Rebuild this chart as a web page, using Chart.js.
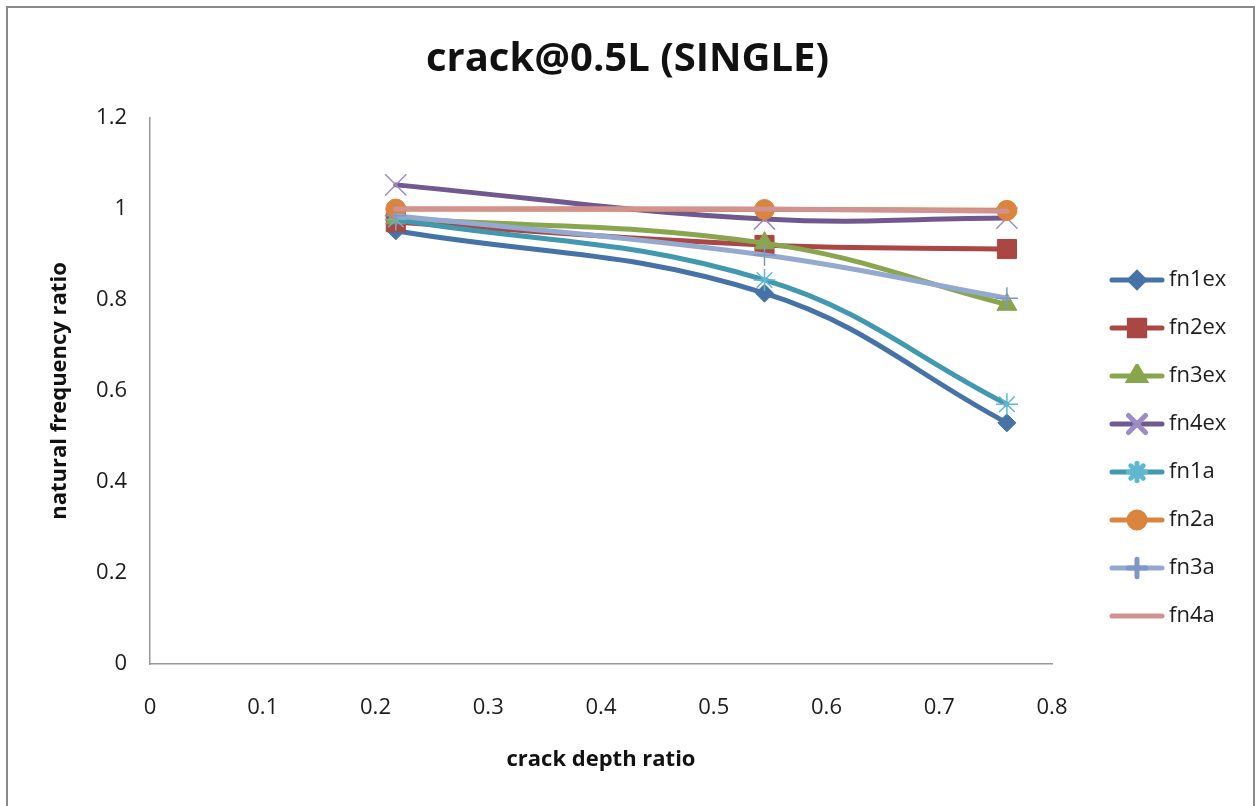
<!DOCTYPE html>
<html>
<head>
<meta charset="utf-8">
<title>crack@0.5L (SINGLE)</title>
<script src="https://cdn.jsdelivr.net/npm/chart.js@4.4.1/dist/chart.umd.min.js"></script>
<style>
  html, body { margin: 0; padding: 0; background: #fff; }
  #wrap { position: relative; width: 1255px; height: 806px; overflow: hidden; }
  #frame { position: absolute; left: 6px; top: 6px; width: 1245px; height: 900px; border: 2px solid #8a8a8a; }
  canvas { position: absolute; left: 0; top: 0; }
</style>
</head>
<body>
<div id="wrap">
  <div id="frame"></div>
  <canvas id="myChart" width="1255" height="806"></canvas>
</div>
<script>
// crack depth ratios (x) and natural frequency ratios per mode
const depthRatio = [0.218, 0.545, 0.76];
const fn1ex = [0.952, 0.815, 0.53];
const fn2ex = [0.971, 0.921, 0.912];
const fn3ex = [0.98, 0.925, 0.79];
const fn4ex = [1.053, 0.978, 0.98];
const fn1a = [0.977, 0.844, 0.571];
const fn2a = [1.0, 0.999, 0.997];
const fn3a = [0.985, 0.899, 0.804];
const fn4a = [1.0, 1.0, 0.995];

const seriesNames = ['fn1ex', 'fn2ex', 'fn3ex', 'fn4ex', 'fn1a', 'fn2a', 'fn3a', 'fn4a'];
const seriesValues = [fn1ex, fn2ex, fn3ex, fn4ex, fn1a, fn2a, fn3a, fn4a];

const xTicks = [0, 0.1, 0.2, 0.3, 0.4, 0.5, 0.6, 0.7, 0.8];
const yTicks = [0, 0.2, 0.4, 0.6, 0.8, 1, 1.2];

// excel 2007 palette
const lineColors = ['#4572A7', '#AA4643', '#89A54E', '#71588F', '#4198AF', '#DB843D', '#93A9CF', '#D19392'];
const markerColors = ['#4572A7', '#AA4643', '#89A54E', '#9d8cc4', '#5fb8d0', '#DB843D', '#7f97c6', '#D19392'];
const markerStyles = ['rectRot', 'rect', 'triangle', 'crossRot', 'star', 'circle', 'cross', 'circle'];
const markerSizes = [9, 13.5, 11.5, 15, 11, 10, 11, 0];
const markerBorders = [1, 1, 1, 1.5, 1.5, 1, 1.5, 0];

// little line+marker image for each legend entry
function legendSwatch(i) {
  const c = document.createElement('canvas');
  c.width = 56; c.height = 24;
  const g = c.getContext('2d');
  g.strokeStyle = lineColors[i];
  g.lineWidth = 5;
  g.lineCap = 'round';
  g.beginPath(); g.moveTo(3, 12); g.lineTo(53, 12); g.stroke();
  if (markerSizes[i] > 0) {
    g.fillStyle = markerColors[i];
    g.strokeStyle = markerColors[i];
    Chart.helpers.drawPoint(g, {
      pointStyle: markerStyles[i],
      radius: markerSizes[i] * 0.8,
      rotation: 0,
      borderWidth: markerBorders[i]
    }, 28, 12);
  }
  return c;
}

// legend keeps a fixed strip on the right and sits a bit lower than centre
const legendPlacement = {
  id: 'legendPlacement',
  beforeLayout(chart, args, opts) {
    const lg = chart.legend;
    if (lg && !lg._fixedFit) {
      const fit = lg.fit;
      lg.fit = function () { fit.call(this); this.width = opts.width; };
      lg._fixedFit = true;
    }
  },
  afterLayout(chart, args, opts) {
    const lg = chart.legend;
    const dx = opts.left - lg.left, dy = opts.top - lg.top;
    lg.left += dx; lg.right += dx;
    lg.top += dy; lg.bottom += dy;
  }
};

const datasets = seriesNames.map((name, i) => ({
  label: name,
  data: depthRatio.map((x, j) => ({ x: x, y: seriesValues[i][j] })),
  showLine: true,
  borderColor: lineColors[i],
  backgroundColor: markerColors[i],
  borderWidth: 5,
  borderCapStyle: 'round',
  tension: 0.4,
  pointStyle: markerStyles[i],
  pointRadius: markerSizes[i],
  pointHoverRadius: markerSizes[i],
  pointBorderColor: markerColors[i],
  pointBackgroundColor: markerColors[i],
  pointBorderWidth: markerBorders[i],
  order: seriesNames.length - i,
  clip: false
}));

Chart.defaults.font.family = "'Open Sans', 'DejaVu Sans', sans-serif";
Chart.defaults.color = '#1c1c1c';

const ctx = document.getElementById('myChart').getContext('2d');
const myChart = new Chart(ctx, {
  type: 'scatter',
  data: { datasets: datasets },
  plugins: [legendPlacement],
  options: {
    responsive: false,
    devicePixelRatio: 1,
    animation: false,
    layout: { padding: 0 },
    plugins: {
      title: {
        display: true,
        text: 'crack@0.5L (SINGLE)',
        color: '#111',
        font: { size: 40, weight: 'bold' },
        padding: { top: 36, bottom: 34 }
      },
      legend: {
        position: 'right',
        align: 'start',
        labels: {
          usePointStyle: true,
          pointStyleWidth: 42,
          padding: 26,
          color: '#1c1c1c',
          font: { size: 22 },
          sort: (a, b) => a.datasetIndex - b.datasetIndex,
          generateLabels(chart) {
            return Chart.defaults.plugins.legend.labels.generateLabels(chart).map(item => {
              item.pointStyle = legendSwatch(item.datasetIndex);
              return item;
            });
          }
        }
      },
      legendPlacement: { width: 203, left: 1090, top: 243 },
      tooltip: { enabled: false }
    },
    scales: {
      x: {
        type: 'linear',
        min: 0,
        max: 0.8,
        afterFit(scale) { scale.height = 142; },
        afterBuildTicks(scale) { scale.ticks = xTicks.map(v => ({ value: v })); },
        grid: { display: false, drawTicks: false },
        border: { display: true, color: '#999', width: 1.5 },
        ticks: {
          font: { size: 22 },
          padding: 31,
          color: '#1c1c1c',
          callback: v => String(Math.round(v * 10) / 10)
        },
        title: {
          display: true,
          text: 'crack depth ratio',
          font: { size: 22, weight: 'bold' },
          color: '#111',
          padding: { bottom: 33 }
        }
      },
      y: {
        min: 0,
        max: 1.2,
        afterFit(scale) { scale.width = 150; },
        afterBuildTicks(scale) { scale.ticks = yTicks.map(v => ({ value: v })); },
        grid: { display: false, drawTicks: false },
        border: { display: true, color: '#999', width: 1.5 },
        ticks: {
          font: { size: 22 },
          padding: 23,
          color: '#1c1c1c',
          callback: v => String(Math.round(v * 10) / 10)
        },
        title: {
          display: true,
          text: 'natural frequency ratio',
          font: { size: 22, weight: 'bold' },
          color: '#111',
          padding: { top: 47 }
        }
      }
    }
  }
});
</script>
</body>
</html>
